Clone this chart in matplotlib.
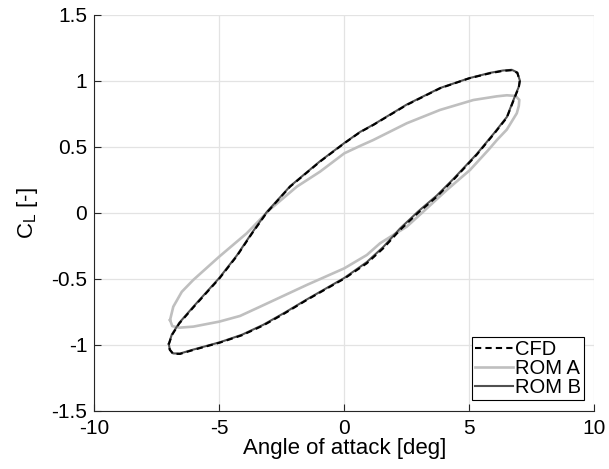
import numpy as np
import matplotlib
matplotlib.use('Agg')
import matplotlib.pyplot as plt

plt.rcParams['font.family'] = ['Liberation Sans', 'DejaVu Sans']
plt.rcParams['mathtext.fontset'] = 'custom'
plt.rcParams['mathtext.rm'] = 'Liberation Sans'
plt.rcParams['mathtext.it'] = 'Liberation Sans'

# hysteresis loops (angle [deg], C_L [-])
cfd_alpha = [-7.02, -6.9, -6.6, -6.0, -5.0, -4.3, -3.7, -3.1, -2.17, -0.97, 0.0, 0.63, 1.16, 2.5, 3.83, 5.0,
             5.83, 6.35, 6.7, 6.92, 7.02, 6.98, 6.83, 6.5, 6.0, 5.3, 4.36, 3.7, 2.96, 2.23, 1.56, 0.9, 0.0,
             -1.5, -2.4, -3.24, -4.1, -4.97, -6.04, -6.57, -6.85, -6.98, -7.02]
cfd_cl = [-1.0, -0.93, -0.84, -0.71, -0.5, -0.33, -0.16, 0.0, 0.197, 0.387, 0.526, 0.61, 0.665, 0.817, 0.943, 1.019,
          1.057, 1.075, 1.08, 1.06, 1.0, 0.95, 0.88, 0.72, 0.6, 0.44, 0.248, 0.121, 0.0, -0.131, -0.27, -0.384, -0.5,
          -0.662, -0.765, -0.855, -0.93, -0.985, -1.041, -1.071, -1.07, -1.04, -1.0]

romb_alpha = [-7.02, -6.9, -6.6, -6.0, -5.0, -4.3, -3.7, -3.1, -2.17, -0.97, 0.0, 0.63, 1.16, 2.5, 3.83, 5.0,
              5.83, 6.35, 6.7, 6.92, 7.02, 6.98, 6.83, 6.5, 6.0, 5.3, 4.36, 3.7, 2.96, 2.23, 1.56, 0.9, 0.0,
              -1.5, -2.4, -3.24, -4.1, -4.97, -6.04, -6.57, -6.85, -6.98, -7.02]
romb_cl = [-0.995, -0.925, -0.835, -0.705, -0.495, -0.325, -0.155, 0.005, 0.2, 0.39, 0.528, 0.612, 0.667, 0.82, 0.945,
           1.02, 1.06, 1.078, 1.083, 1.063, 1.003, 0.955, 0.885, 0.725, 0.605, 0.445, 0.255, 0.13, 0.01, -0.12, -0.26,
           -0.375, -0.495, -0.658, -0.76, -0.85, -0.926, -0.982, -1.038, -1.068, -1.067, -1.037, -0.995]

roma_alpha = [-6.97, -6.84, -6.5, -6.04, -5.0, -3.9, -3.0, -1.9, -0.97, 0.0, 0.63, 1.16, 2.5, 3.83, 5.16,
              6.1, 6.5, 6.85, 7.0, 6.98, 6.9, 6.5, 6.1, 5.76, 5.03, 4.1, 3.16, 2.5, 1.96, 1.43, 0.9, 0.0,
              -1.5, -3.37, -4.17, -5.0, -6.04, -6.6, -6.88, -6.97]
roma_cl = [-0.814, -0.713, -0.6, -0.51, -0.333, -0.156, 0.02, 0.197, 0.311, 0.45, 0.506, 0.551, 0.678, 0.779, 0.854,
           0.882, 0.89, 0.885, 0.855, 0.81, 0.754, 0.63, 0.55, 0.475, 0.324, 0.172, 0.008, -0.106, -0.169, -0.232,
           -0.321, -0.422, -0.548, -0.713, -0.783, -0.826, -0.864, -0.872, -0.86, -0.814]

xticks = [-10, -5, 0, 5, 10]
yticks = [-1.5, -1, -0.5, 0, 0.5, 1, 1.5]
xtick_labels = ['-10', '-5', '0', '5', '10']
ytick_labels = ['-1.5', '-1', '-0.5', '0', '0.5', '1', '1.5']

fig = plt.figure(figsize=(6.09, 4.69), dpi=100)
ax = fig.add_axes([0.1548, 0.1247, 0.8211, 0.8437])

ax.plot(roma_alpha, roma_cl, color='#bfbfbf', lw=1.9, label='ROM A', zorder=2)
ax.plot(romb_alpha, romb_cl, color='#505050', lw=1.5, label='ROM B', zorder=3)
ax.plot(cfd_alpha, cfd_cl, color='black', lw=1.5, ls=(0, (3, 2)), label='CFD', zorder=4)

ax.set_xlim(-10, 10)
ax.set_ylim(-1.5, 1.5)
ax.set_xticks(xticks)
ax.set_xticklabels(xtick_labels)
ax.set_yticks(yticks)
ax.set_yticklabels(ytick_labels)
ax.tick_params(direction='in', length=5, width=0.8, labelsize=15, colors='#262626',
               labelcolor='black')
ax.tick_params(axis='x', pad=6)
ax.tick_params(axis='y', pad=5)
ax.grid(True, color='#e3e3e3', lw=0.9)
ax.set_axisbelow(True)
for s in ['top', 'right']:
    ax.spines[s].set_visible(False)
for s in ['left', 'bottom']:
    ax.spines[s].set_color('#262626')
    ax.spines[s].set_linewidth(0.8)

ax.set_xlabel('Angle of attack [deg]', fontsize=16, labelpad=0)
ax.set_ylabel('C$_\\mathrm{L}$ [-]', fontsize=16, labelpad=8)

h, l = ax.get_legend_handles_labels()
order = [2, 0, 1]
leg = ax.legend([h[i] for i in order], [l[i] for i in order], loc='lower right', fontsize=14.5,
                frameon=True, fancybox=False, edgecolor='black', framealpha=1,
                handlelength=1.9, handletextpad=0.12, labelspacing=0.0, borderpad=0.15,
                borderaxespad=0.5)
leg.get_frame().set_linewidth(0.8)

fig.savefig('out.png', dpi=100)
